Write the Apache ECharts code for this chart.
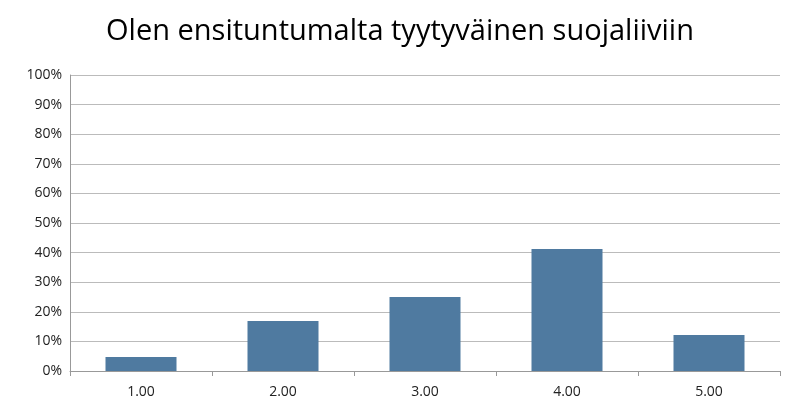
<!DOCTYPE html>
<html>
<head>
<meta charset="utf-8">
<script src="https://cdn.jsdelivr.net/npm/echarts@6/dist/echarts.min.js"></script>
<style>
  body { margin: 0; background: #fff; }
  #chart { width: 800px; height: 416px; }
</style>
</head>
<body>
<div id="chart"></div>
<script>
  const categories = ['1.00', '2.00', '3.00', '4.00', '5.00'];
  const values = [4.7, 16.9, 25.0, 41.2, 12.2];

  const chart = echarts.init(document.getElementById('chart'));
  chart.setOption({
    animation: false,
    textStyle: { fontFamily: 'Open Sans' },
    title: {
      text: 'Olen ensituntumalta tyytyväinen suojaliiviin',
      left: 'center', top: 12,
      textStyle: { fontFamily: 'Open Sans', fontSize: 29, fontWeight: 'normal', color: '#000' }
    },
    grid: { left: 70, right: 20, top: 75, bottom: 45 },
    xAxis: {
      type: 'category', data: categories,
      axisLine: { lineStyle: { color: '#999' } },
      axisTick: { show: true, lineStyle: { color: '#999' } },
      axisLabel: { color: '#222', fontSize: 14, margin: 14 }
    },
    yAxis: {
      type: 'value', min: 0, max: 100, interval: 10,
      axisLine: { show: true, lineStyle: { color: '#999' } },
      axisLabel: { color: '#222', fontSize: 14, formatter: '{value}%' },
      splitLine: { lineStyle: { color: '#bbb' } }
    },
    series: [{
      type: 'bar', data: values, barWidth: '50%',
      itemStyle: { color: '#4f7aa0' }
    }]
  });
</script>
</body>
</html>
